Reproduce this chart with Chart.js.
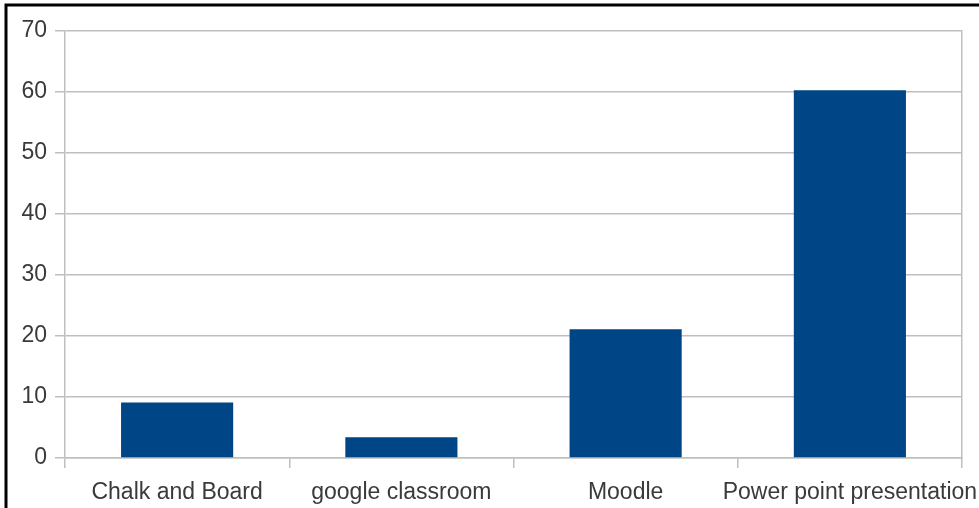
<!DOCTYPE html>
<html>
<head>
<meta charset="utf-8">
<script src="https://cdn.jsdelivr.net/npm/chart.js@4"></script>
<style>
  html, body { margin: 0; padding: 0; background: #fff; }
  #wrap { width: 979px; height: 508px; }
</style>
</head>
<body>
<div id="wrap"><canvas id="barChart" width="979" height="508"></canvas></div>
<script>
// categories and values
const categories = ["Chalk and Board", "google classroom", "Moodle", "Power point presentation"];
const values = [9.1, 3.4, 21.1, 60.3];
const yTicks = [0, 10, 20, 30, 40, 50, 60, 70];

const gridColor = "#bfbfbf";
const textColor = "#3a3a3a";

// black frame on top and left edge of the picture
const framePlugin = {
  id: "frame",
  afterDraw(chart) {
    const c = chart.ctx;
    c.save();
    c.strokeStyle = "#000";
    c.lineWidth = 3;
    c.beginPath();
    c.moveTo(6, chart.height);
    c.lineTo(6, 5);
    c.lineTo(chart.width, 5);
    c.stroke();
    c.restore();
  }
};

new Chart(document.getElementById("barChart"), {
  type: "bar",
  data: {
    labels: categories,
    datasets: [{
      data: values,
      backgroundColor: "#004586",
      borderWidth: 0,
      categoryPercentage: 1,
      barPercentage: 0.5
    }]
  },
  options: {
    responsive: false,
    animation: false,
    layout: { padding: { top: 31, right: 17, left: 0, bottom: 0 } },
    plugins: { legend: { display: false }, tooltip: { enabled: false } },
    scales: {
      x: {
        offset: true,
        grid: { offset: true, drawOnChartArea: false, drawTicks: true, tickLength: 10, color: gridColor, lineWidth: 1.5 },
        border: { color: gridColor, width: 1.5 },
        ticks: {
          color: textColor,
          font: { family: "Liberation Sans", size: 23 },
          padding: 11,
          maxRotation: 0,
          minRotation: 0,
          autoSkip: false
        },
        afterFit: s => { s.height = 50; s.paddingLeft = 0; s.paddingRight = 0; }
      },
      y: {
        min: 0,
        max: 70,
        afterBuildTicks: s => { s.ticks = yTicks.map(v => ({ value: v })); },
        grid: { color: gridColor, lineWidth: 1.5, tickLength: 10 },
        border: { color: gridColor, width: 1.5 },
        ticks: {
          color: textColor,
          font: { family: "Liberation Sans", size: 23 },
          padding: 8
        },
        afterFit: s => { s.width = 65; }
      },
      y2: {
        position: "right",
        grid: { drawOnChartArea: false, drawTicks: false },
        border: { color: gridColor, width: 1.5 },
        ticks: { display: false },
        afterFit: s => { s.width = 0; }
      }
    }
  },
  plugins: [framePlugin]
});
</script>
</body>
</html>
